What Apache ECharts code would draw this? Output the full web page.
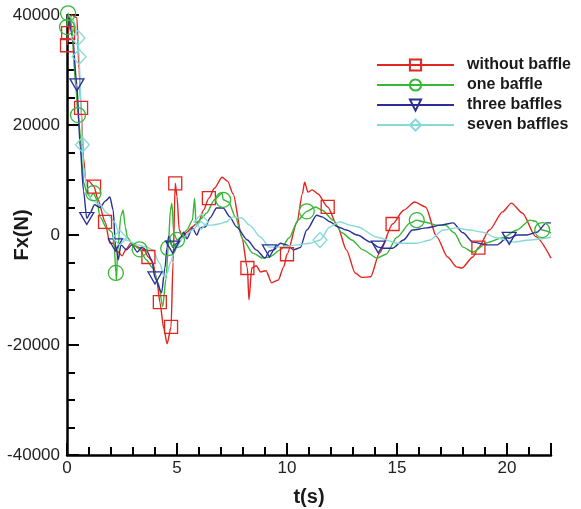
<!DOCTYPE html>
<html><head><meta charset="utf-8">
<script src="https://cdn.jsdelivr.net/npm/echarts@6/dist/echarts.min.js"></script>
<style>html,body{margin:0;padding:0;background:#fff}#c{width:581px;height:509px}</style>
</head><body><div id="c"></div>
<script>
// ---- data (t in s, Fx in N) ----
const seriesNames = ['without baffle', 'one baffle', 'three baffles', 'seven baffles'];
const xTicks = [0, 5, 10, 15, 20];
const yTicks = [-40000, -20000, 0, 20000, 40000];

const woT = [0.0,0.05,0.2,0.45,0.55,0.64,0.75,0.85,1.0,1.23,1.4,1.73,1.95,2.1,2.3,2.5,2.7,2.9,3.1,3.3,3.5,3.7,3.9,4.1,4.22,4.4,4.55,4.73,4.82,4.92,5.0,5.1,5.25,5.45,5.7,6.0,6.2,6.45,6.7,7.05,7.3,7.55,7.95,8.2,8.27,8.4,8.6,8.8,9.05,9.3,9.6,9.85,10.0,10.45,10.7,10.8,10.95,11.15,11.4,11.85,12.3,12.7,13.1,13.4,13.8,14.2,14.8,15.3,15.8,16.3,16.8,17.3,17.7,17.95,18.45,18.7,19.2,19.8,20.2,20.7,21.3,22.0];
const woF = [34500,36700,40000,39500,30000,23100,14000,10000,9800,8800,6500,2400,-1500,-1500,-3000,-3800,-2500,-1500,-2000,-2300,-2700,-4000,-5000,-8700,-12200,-17000,-19800,-16700,-5000,9400,7000,1000,-400,500,1500,2500,4500,6700,8500,10500,9800,7500,-400,-6000,-11800,-6000,-5600,-6700,-6500,-8700,-8200,-5800,-3500,2200,7500,9600,7800,8200,7500,5100,1500,-2700,-6900,-7700,-7600,-3300,2000,4500,6000,5100,-300,-4000,-5800,-6000,-4000,-2300,900,4200,5800,4000,-300,-4200];
const woMarkT = [0.0,0.05,0.64,1.23,1.73,3.7,4.22,4.73,4.92,6.45,8.2,10.0,11.85,14.8,18.7];

const oneT = [0.0,0.05,0.2,0.4,0.5,0.6,0.7,0.75,0.9,1.05,1.2,1.35,1.5,1.8,2.05,2.15,2.22,2.25,2.3,2.45,2.55,2.65,2.75,3.0,3.3,3.6,3.9,4.15,4.35,4.5,4.6,4.7,4.77,4.85,5.0,5.2,5.45,5.7,5.8,5.87,6.1,6.35,6.7,7.05,7.1,7.35,7.65,8.0,8.45,8.9,9.2,9.7,10.1,10.5,10.9,11.3,11.6,12.1,12.5,12.95,13.45,14.1,14.5,15.0,15.6,15.9,16.2,16.8,17.2,17.6,18.0,18.45,19.1,19.8,20.45,21.05,21.3,21.6,22.0];
const oneF = [37800,40300,38500,27000,21800,18500,12400,9600,7800,6900,7600,6500,3300,1300,500,-2000,-6900,-8200,-3000,3500,4500,1500,-500,-1800,-2600,-4500,-6000,-8700,-13000,-8000,-2400,4500,5800,400,-900,-300,900,2700,6700,1800,3000,4000,6400,7600,6400,6000,3300,-900,-3300,-4200,-4000,-2700,-500,2700,4300,5100,4500,2700,400,-900,-2700,-4200,-3500,-400,2200,2700,2400,1800,1800,400,-2200,-3100,-1400,-500,900,2700,2500,900,400];
const oneMarkT = [0.0,0.05,0.5,1.2,2.22,3.3,4.6,5.0,7.1,10.9,15.9,21.6];

const threeT = [0.1,0.25,0.45,0.6,0.75,0.9,1.05,1.25,1.5,1.75,1.95,2.1,2.2,2.25,2.33,2.45,2.7,2.95,3.2,3.4,3.6,3.85,4.0,4.3,4.45,4.55,4.62,4.8,5.0,5.15,5.3,5.45,5.7,5.9,6.05,6.3,6.5,6.8,7.1,7.4,7.7,8.2,8.6,9.0,9.2,9.4,9.7,10.0,10.3,10.6,10.9,11.35,11.6,11.95,12.3,12.7,13.2,13.8,14.15,14.4,14.8,15.3,15.7,16.35,17.0,17.55,18.0,18.45,19.1,19.55,20.0,20.1,20.45,20.9,21.35,21.8,22.0];
const threeF = [39500,36000,27300,16000,8000,3000,4000,5500,5000,6200,6900,4500,-1800,-2700,-4500,-1800,-2700,-1800,-3100,-2200,-2700,-4500,-7800,-10500,-6000,-2200,-200,-2200,-1500,-600,500,-700,1300,0,1300,1500,3100,4900,4900,3300,1500,-900,-2700,-4200,-2900,-2700,-1500,-1800,-2700,-2300,900,3600,3300,2400,1500,900,0,-1300,-2200,-2400,-2400,-900,900,1300,1800,2200,400,-1300,-1800,-1800,-500,-600,0,0,500,2200,2200];
const threeMarkT = [0.45,0.9,2.2,4.0,4.8,9.2,14.15,20.1];

const sevenT = [0.1,0.3,0.5,0.55,0.65,0.7,0.75,0.9,1.1,1.5,1.8,2.2,2.3,2.4,2.7,3.2,3.6,3.9,4.2,4.45,4.55,4.7,4.9,5.3,5.7,6.1,6.3,6.6,6.9,7.25,7.55,7.95,8.3,8.8,9.2,9.8,10.45,11.05,11.5,11.95,12.4,12.85,13.2,14.1,15.0,15.9,16.5,17.1,17.7,18.3,18.9,19.5,20.3,21.05,22.0];
const sevenF = [40000,39000,35800,32400,22000,16400,12400,8700,6400,5500,4000,2200,900,-500,-900,-1800,-2200,-2700,-5100,-7800,-6900,-5000,-2700,-400,900,2400,1800,1800,2000,2400,3300,3100,1800,-400,-2200,-2200,-1800,-1500,-900,1500,2400,1800,1500,-400,-1500,-1500,-900,900,1300,900,500,-500,-1300,-900,-400];
const sevenMarkT = [0.5,0.55,0.7,2.4,6.1,11.5];

// ---- chart ----
const FONT = 'Arial, "Liberation Sans", sans-serif';
function build(T, F, marks) {
  return T.map((t, i) => marks.indexOf(t) >= 0 ? {value: [t, F[i]]} : {value: [t, F[i]], symbol: 'none'});
}
const colors = ['#e1251f', '#36b836', '#2a2f95', '#86dad6'];
const symbols = ['rect', 'circle', 'triangle', 'diamond'];
const sizes = [13, 15, [14, 12], [14, 15]];
const rot = [0, 0, 180, 0];
const allData = [build(woT, woF, woMarkT), build(oneT, oneF, oneMarkT), build(threeT, threeF, threeMarkT), build(sevenT, sevenF, sevenMarkT)];

const chart = echarts.init(document.getElementById('c'), null, {renderer: 'canvas'});
chart.setOption({
  animation: false,
  backgroundColor: '#fff',
  grid: {left: 67, right: 30, top: 15, bottom: 54, containLabel: false, outerBoundsMode: 'none'},
  legend: {
    orient: 'vertical', left: 376, top: 57, padding: 0,
    itemWidth: 77, itemHeight: 14, itemGap: 4,
    data: seriesNames,
    textStyle: {fontFamily: FONT, fontWeight: 'bold', fontSize: 16, lineHeight: 14, color: '#1a1a1a', padding: [0, 0, 0, 8]}
  },
  xAxis: {
    type: 'value', min: xTicks[0], max: 22, interval: 5,
    name: 't(s)', nameLocation: 'middle', nameGap: 32, nameMoveOverlap: false,
    nameTextStyle: {fontFamily: FONT, fontWeight: 'bold', fontSize: 20, color: '#1a1a1a'},
    axisLine: {onZero: false, lineStyle: {color: '#000', width: 2.5}},
    axisTick: {inside: true, length: 12, lineStyle: {color: '#000', width: 2}},
    minorTick: {show: true, splitNumber: 5, length: 8, lineStyle: {color: '#000', width: 2}},
    axisLabel: {fontFamily: FONT, fontSize: 17, color: '#222', margin: 5, showMaxLabel: false,
      formatter: v => (xTicks.indexOf(v) >= 0 ? String(v) : '')},
    splitLine: {show: false}
  },
  yAxis: {
    type: 'value', min: yTicks[0], max: yTicks[yTicks.length - 1], interval: 20000,
    name: 'Fx(N)', nameLocation: 'middle', nameGap: 35, nameMoveOverlap: false,
    nameTextStyle: {fontFamily: FONT, fontWeight: 'bold', fontSize: 20, color: '#1a1a1a'},
    axisLine: {onZero: false, lineStyle: {color: '#000', width: 2.5}},
    axisTick: {inside: true, length: 12, lineStyle: {color: '#000', width: 2}},
    minorTick: {show: true, splitNumber: 4, length: 8, lineStyle: {color: '#000', width: 2}},
    axisLabel: {fontFamily: FONT, fontSize: 17, color: '#222', margin: 7, formatter: v => String(v)},
    splitLine: {show: false}
  },
  series: seriesNames.map((n, k) => ({
    name: n, type: 'line', data: allData[k],
    symbol: symbols[k], symbolSize: sizes[k], symbolRotate: rot[k],
    showAllSymbol: true, clip: false, smooth: 0.25, smoothMonotone: 'x',
    lineStyle: {color: colors[k], width: 1.4},
    itemStyle: {color: 'rgba(255,255,255,0)', borderColor: colors[k], borderWidth: 1.3},
    emphasis: {disabled: true}
  }))
});
</script></body></html>
